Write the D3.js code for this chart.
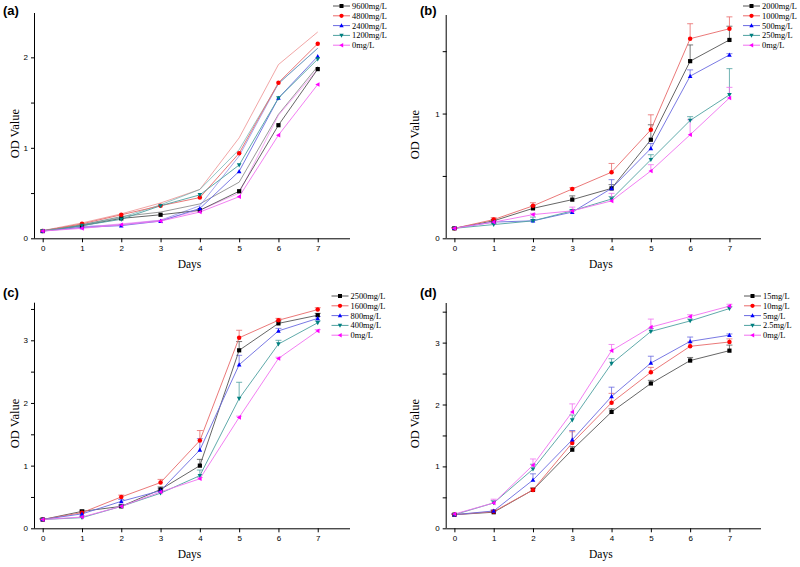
<!DOCTYPE html>
<html><head><meta charset="utf-8">
<script src="https://cdn.jsdelivr.net/npm/d3@7"></script>
<style>
html,body{margin:0;padding:0;background:#fff;}
svg{display:block;}
.tick text{font-family:"Liberation Sans Narrow","Liberation Sans",Arial,sans-serif;font-size:8px;}
</style></head>
<body>
<script>
// ---------- data ----------
const days = [0,1,2,3,4,5,6,7];
const panelTitles = ["(a)","(b)","(c)","(d)"];
const colors = ["#000000","#ff0000","#0000ff","#008080","#ff00ff"];
const lineColors = ["#555555","#e86a6a","#6a6ae0","#4ea0a0","#f070f0"];
const markerShapes = ["square","circle","up","down","left"];

const labelsA = ["9600mg/L","4800mg/L","2400mg/L","1200mg/L","0mg/L"];
const valuesA = [
  [0.08,0.14,0.22,0.26,0.31,0.52,1.25,1.87],
  [0.08,0.16,0.26,0.36,0.45,0.94,1.72,2.15],
  [0.08,0.12,0.14,0.19,0.33,0.74,1.55,2.01],
  [0.08,0.14,0.21,0.36,0.48,0.81,1.55,1.98],
  [0.08,0.11,0.15,0.19,0.29,0.46,1.14,1.70]
];
const errorsA = [
  [0.005,0.01,0.02,0.03,0.07,0.10,0.12,0.03],
  [0.005,0.01,0.01,0.03,0.09,0.17,0.20,0.13],
  [0.005,0.01,0.01,0.01,0.03,0.17,0.16,0.09],
  [0.005,0.01,0.02,0.01,0.06,0.17,0.16,0.12],
  [0.005,0.01,0.01,0.01,0.02,0.04,0.22,0.17]
];

const labelsB = ["2000mg/L","1000mg/L","500mg/L","250mg/L","0mg/L"];
const valuesB = [
  [0.08,0.14,0.24,0.31,0.40,0.79,1.42,1.59],
  [0.08,0.15,0.26,0.395,0.53,0.87,1.60,1.68],
  [0.08,0.13,0.14,0.21,0.40,0.72,1.30,1.47],
  [0.08,0.11,0.14,0.22,0.315,0.63,0.945,1.15],
  [0.08,0.13,0.19,0.22,0.30,0.54,0.83,1.125]
];
const errorsB = [
  [0.005,0.01,0.02,0.03,0.03,0.12,0.13,0.11],
  [0.005,0.015,0.025,0.01,0.07,0.12,0.12,0.095],
  [0.005,0.01,0.01,0.01,0.07,0.04,0.05,0.01],
  [0.005,0.01,0.03,0.01,0.02,0.04,0.03,0.21],
  [0.005,0.01,0.01,0.03,0.06,0.05,0.12,0.085]
];

const labelsC = ["2500mg/L","1600mg/L","800mg/L","400mg/L","0mg/L"];
const valuesC = [
  [0.14,0.27,0.35,0.62,1.00,2.84,3.27,3.40],
  [0.14,0.25,0.50,0.73,1.40,3.04,3.32,3.49],
  [0.14,0.23,0.43,0.60,1.25,2.61,3.15,3.35],
  [0.14,0.17,0.35,0.56,0.84,2.07,2.94,3.28],
  [0.14,0.18,0.35,0.58,0.79,1.77,2.71,3.15]
];
const errorsC = [
  [0.01,0.02,0.02,0.04,0.10,0.14,0.04,0.03],
  [0.01,0.02,0.03,0.05,0.16,0.12,0.03,0.03],
  [0.01,0.02,0.03,0.03,0.18,0.15,0.04,0.03],
  [0.01,0.02,0.02,0.03,0.09,0.26,0.06,0.03],
  [0.01,0.01,0.02,0.02,0.02,0.02,0.02,0.02]
];

const labelsD = ["15mg/L","10mg/L","5mg/L","2.5mg/L","0mg/L"];
const valuesD = [
  [0.22,0.26,0.62,1.27,1.88,2.34,2.71,2.87],
  [0.22,0.27,0.62,1.38,2.03,2.52,2.94,3.01],
  [0.22,0.28,0.78,1.43,2.13,2.67,3.02,3.12],
  [0.22,0.41,0.955,1.75,2.66,3.18,3.35,3.55],
  [0.23,0.41,1.02,1.88,2.87,3.25,3.42,3.59]
];
const errorsD = [
  [0.01,0.02,0.03,0.05,0.05,0.05,0.05,0.09],
  [0.01,0.02,0.03,0.18,0.15,0.08,0.07,0.05],
  [0.01,0.02,0.10,0.15,0.15,0.11,0.07,0.02],
  [0.01,0.04,0.08,0.08,0.08,0.05,0.03,0.03],
  [0.01,0.06,0.10,0.13,0.10,0.13,0.03,0.03]
];

const yTicksA = [0,1,2], yTicksB = [0,1], yTicksC = [0,1,2,3], yTicksD = [0,1,2,3];
const yMaxes = [2.49, 1.79, 3.6, 3.64];

// ---------- layout ----------
const W = 800, H = 567;
const svg = d3.select("body").append("svg").attr("width",W).attr("height",H);

const layouts = [
  {x0:35,  x1:350, yb:238.3, yt:13,  ox:0,   oy:0,   legX:333,   legY:6,   errStyle:"line"},
  {x0:446.7,x1:761,yb:238.3, yt:15,  ox:400, oy:0,   legX:743,   legY:6,   errStyle:"bar"},
  {x0:35,  x1:350, yb:528.3, yt:302.7,ox:0,  oy:280, legX:331.5, legY:296, errStyle:"bar"},
  {x0:446.7,x1:761,yb:528.3, yt:303, ox:400, oy:280, legX:744,   legY:296, errStyle:"bar"}
];
const panels = [
  {labels:labelsA, values:valuesA, errors:errorsA, yTicks:yTicksA},
  {labels:labelsB, values:valuesB, errors:errorsB, yTicks:yTicksB},
  {labels:labelsC, values:valuesC, errors:errorsC, yTicks:yTicksC},
  {labels:labelsD, values:valuesD, errors:errorsD, yTicks:yTicksD}
];

function markerPath(shape, s){
  const h = s/2;
  switch(shape){
    case "square": return `M${-h},${-h}H${h}V${h}H${-h}Z`;
    case "circle": return d3.symbol(d3.symbolCircle, s*s*0.9)();
    case "up": return `M0,${-h*1.15}L${h*1.1},${h*0.85}L${-h*1.1},${h*0.85}Z`;
    case "down": return `M0,${h*1.15}L${h*1.1},${-h*0.85}L${-h*1.1},${-h*0.85}Z`;
    case "left": return `M${-h*1.15},0L${h*0.85},${-h*1.1}L${h*0.85},${h*1.1}Z`;
  }
}

panels.forEach((p, pi) => {
  const L = layouts[pi];
  const g = svg.append("g");
  const dayPx = 39.29;
  const x0Day = L.x0 + 7.7;
  const x = d3.scaleLinear().domain([0,7]).range([x0Day, x0Day + 7*dayPx]);
  const y = d3.scaleLinear().domain([0, yMaxes[pi]]).range([L.yb, L.yt]);

  const xAxis = d3.axisBottom(x).tickValues(days).tickSize(4).tickPadding(3).tickFormat(d3.format("d"));
  const gx = g.append("g").attr("transform",`translate(0,${L.yb})`).call(xAxis);
  gx.select(".domain").attr("d", `M${L.x0},0.5H${L.x1}`).attr("stroke","#000").attr("stroke-width",1);
  gx.selectAll(".tick line").attr("stroke","#000");

  const minor = d3.range(0.5, yMaxes[pi], 1);
  const yAxis = d3.axisLeft(y).tickValues(p.yTicks).tickSize(4).tickPadding(3).tickFormat(d3.format("d"));
  const gy = g.append("g").attr("transform",`translate(${L.x0},0)`).call(yAxis);
  gy.select(".domain").attr("d", `M-0.5,${L.yb}V${L.yt}`).attr("stroke","#000").attr("stroke-width",1);
  const yMinor = d3.axisLeft(y).tickValues(minor).tickSize(4).tickFormat("");
  const gym = g.append("g").attr("transform",`translate(${L.x0},0)`).call(yMinor);
  gym.select(".domain").remove();

  g.append("text").attr("x", (L.x0+L.x1)/2 - 3).attr("y", L.yb + 30)
    .attr("text-anchor","middle").attr("font-family","Liberation Serif, Times New Roman, serif")
    .attr("font-size",11.5).text("Days");
  g.append("text").attr("transform",`translate(${L.ox+19},${(L.yb+L.yt)/2+8}) rotate(-90)`)
    .attr("text-anchor","middle").attr("font-family","Liberation Serif, Times New Roman, serif")
    .attr("font-size",12.5).text("OD Value");
  g.append("text").attr("x", L.ox + (pi%2===0 ? 3 : 20)).attr("y", L.oy + (pi<2 ? 15 : 17))
    .attr("font-family","Liberation Sans, Arial, sans-serif").attr("font-weight","bold")
    .attr("font-size",13).text(panelTitles[pi]);

  const line = d3.line().x((d,i)=>x(days[i])).y(d=>y(d));

  p.values.forEach((vals, si) => {
    const errs = p.errors[si];
    const upper = vals.map((v,i)=>v+errs[i]);
    if (L.errStyle === "line") {
      g.append("path").attr("d", line(upper)).attr("fill","none")
        .attr("stroke", lineColors[si]).attr("stroke-width",0.8).attr("opacity",0.75);
    } else {
      vals.forEach((v,i)=>{
        const xi = x(days[i]);
        g.append("line").attr("x1",xi).attr("x2",xi).attr("y1",y(v)).attr("y2",y(v+errs[i]))
          .attr("stroke",lineColors[si]).attr("stroke-width",0.8);
        g.append("line").attr("x1",xi-3).attr("x2",xi+3).attr("y1",y(v+errs[i])).attr("y2",y(v+errs[i]))
          .attr("stroke",lineColors[si]).attr("stroke-width",0.8);
      });
    }
  });
  p.values.forEach((vals, si) => {
    g.append("path").attr("d", line(vals)).attr("fill","none")
      .attr("stroke", lineColors[si]).attr("stroke-width",0.9);
  });
  p.values.forEach((vals, si) => {
    g.selectAll(null).data(vals).enter().append("path")
      .attr("transform",(d,i)=>`translate(${x(days[i])},${y(d)})`)
      .attr("d", markerPath(markerShapes[si], 4.2)).attr("fill", colors[si]);
  });

  const lg = g.append("g");
  p.labels.forEach((lab, si) => {
    const ly = L.legY + si*9.8;
    lg.append("line").attr("x1",L.legX).attr("x2",L.legX+17).attr("y1",ly).attr("y2",ly)
      .attr("stroke",lineColors[si]).attr("stroke-width",1);
    lg.append("path").attr("transform",`translate(${L.legX+8.5},${ly})`)
      .attr("d", markerPath(markerShapes[si], 4)).attr("fill",colors[si]);
    lg.append("text").attr("x",L.legX+19).attr("y",ly+3)
      .attr("font-family","Liberation Serif, Times New Roman, serif").attr("font-size",8.4)
      .text(lab);
  });
});
</script>
</body></html>
